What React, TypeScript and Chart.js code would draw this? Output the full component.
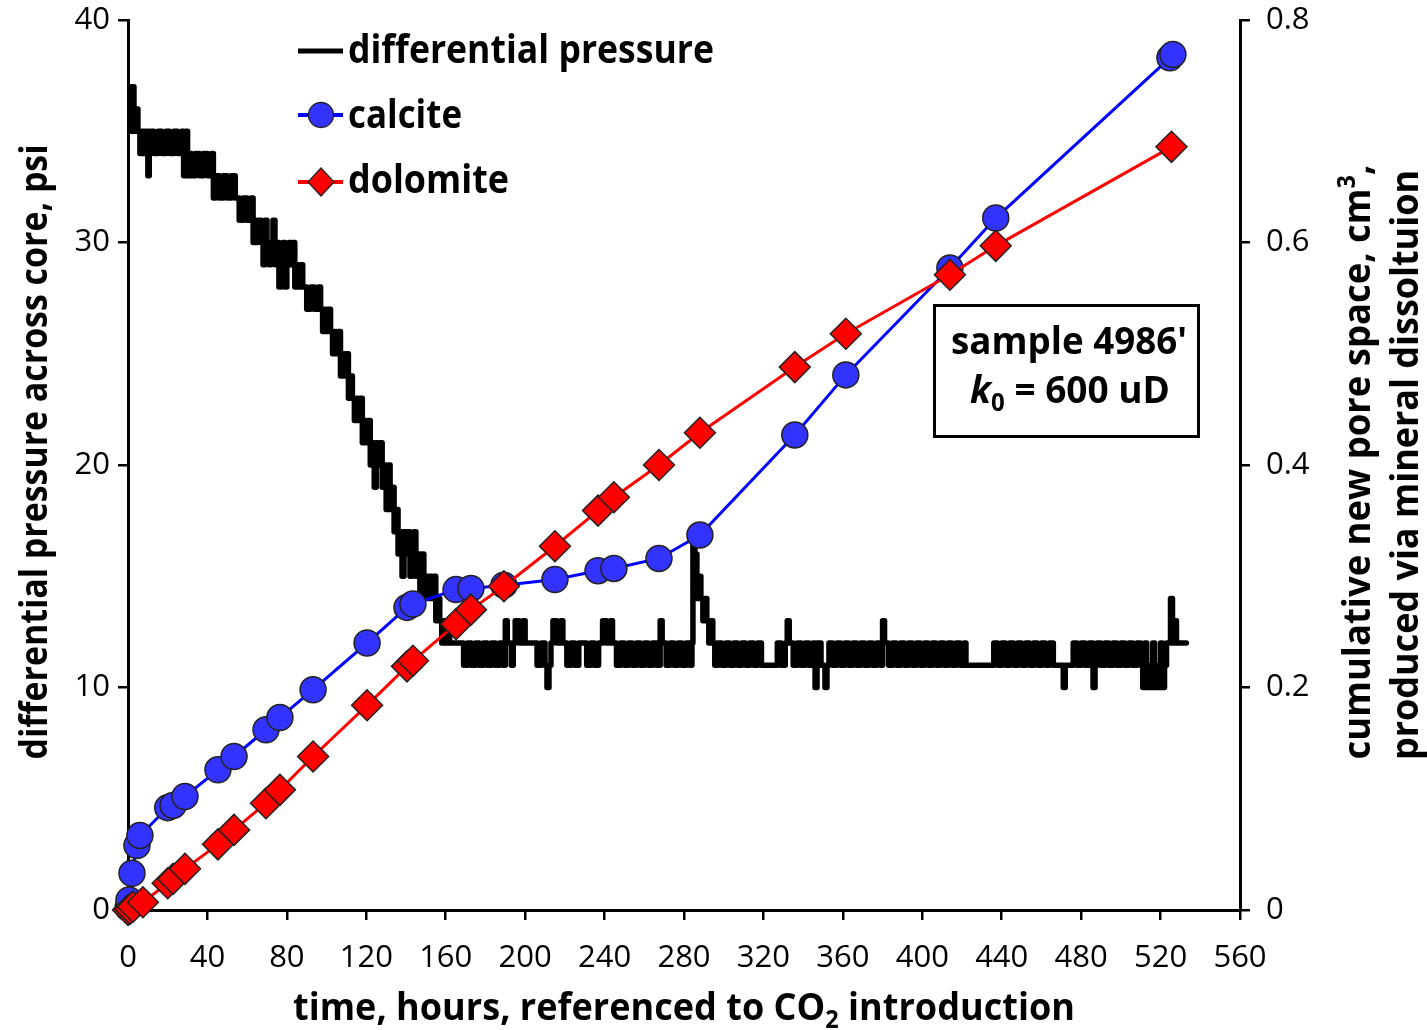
import React, { useEffect, useRef } from 'react';
import { Chart, registerables } from 'chart.js';

Chart.register(...registerables);

// ---------------- data ----------------
// differential pressure trace: [hours, psi]
const dpTrace: [number, number][] = [
  [0, 35], [0.5, 37], [1, 35], [1.5, 37], [2, 35], [2.5, 37], [3, 35], [3.5, 36], [4, 35], [4.5, 36], [5, 35],
  [6, 34], [7, 35], [8, 34], [9, 35], [10, 33], [10.7, 34],
  [11, 35], [13, 34], [15, 35], [17, 34], [19, 35], [21, 34], [23, 35], [25, 34], [27, 35],
  [28, 33], [29, 35], [30, 33], [31, 34], [32, 33],
  [34, 34], [36, 33], [38, 34], [40, 33], [42, 34],
  [43, 32], [44, 33], [46, 32], [48, 33], [50, 32], [52, 33], [54, 32],
  [56, 31], [58, 32], [60, 31], [62, 32],
  [63, 30], [65, 31], [67, 30], [68, 29], [69, 31], [70, 30], [71, 29], [72, 30], [73, 31], [74, 29],
  [75, 30], [76, 28], [77, 29], [78, 30], [79, 28], [80, 29],
  [81, 30], [82, 29], [83, 30], [84, 28], [85, 29], [86, 28], [87, 29], [88, 28],
  [90, 27], [92, 28], [94, 27], [96, 28],
  [97, 27], [98, 26], [99, 27], [100, 26], [101, 27], [102, 26], [103, 25], [104, 26], [105, 25], [106, 26],
  [107, 24], [108, 25], [109, 24], [110, 25], [111, 23], [112, 24], [113, 23], [114, 22], [115, 23], [116, 22],
  [117, 23], [118, 21], [119, 22], [120, 21], [121, 22], [122, 20], [123, 21], [124, 19], [125, 21], [126, 20],
  [127, 21], [128, 19], [129, 20], [130, 18], [131, 20], [132, 18], [133, 19], [134, 17], [135, 18], [136, 16],
  [137, 17], [138, 15], [139, 17], [140, 16], [141, 17], [142, 15], [143, 16], [144, 17], [145, 15], [146, 16],
  [147, 14], [148, 16], [149, 14], [150, 15], [151, 14], [152, 15], [153, 14], [154, 15], [155, 13], [156, 14],
  [157, 13], [158, 12], [159, 13], [160, 12], [161, 13], [162, 12],
  [169, 11], [171, 12], [173, 11], [175, 12], [177, 11], [179, 12], [181, 11], [183, 12], [185, 11], [187, 12],
  [189, 11], [190, 13], [191, 12], [193, 11], [194, 12], [195, 13], [197, 12], [199, 13], [200, 12],
  [206, 11], [208, 12], [210, 11], [211, 10], [212, 11], [213, 12], [214, 13], [216, 12], [218, 13], [219, 12],
  [221, 11], [223, 12], [225, 11], [227, 12], [231, 11], [233, 12], [235, 11], [237, 12], [239, 13], [241, 12],
  [243, 13], [244, 12], [246, 11], [248, 12], [250, 11], [252, 12], [254, 11], [256, 12], [258, 11], [260, 12],
  [262, 11], [264, 12], [266, 11], [268, 13], [269, 12], [271, 11], [273, 12], [275, 11], [277, 12], [279, 11],
  [281, 12], [283, 11],
  [284, 12], [284.5, 16.5], [285.5, 16], [286.5, 14], [287.5, 15], [288.5, 14], [289.5, 13], [290.5, 14],
  [291.5, 13], [292.5, 12], [293.5, 13], [294.5, 12], [295.5, 11],
  [297, 12], [299, 11], [301, 12], [303, 11], [305, 12], [307, 11], [309, 12], [311, 11], [313, 12], [315, 11],
  [317, 12], [319, 11], [327, 12], [329, 11], [331, 12], [332, 13], [333, 12], [335, 11], [337, 12], [339, 11],
  [341, 12], [343, 11], [345, 12], [346, 10], [347, 12], [349, 11], [351, 10], [352, 11], [353, 12], [355, 11],
  [357, 12], [359, 11], [361, 12], [363, 11], [365, 12], [367, 11], [369, 12], [371, 11], [373, 12], [375, 11],
  [377, 12], [379, 11], [380, 13], [381, 12], [383, 11], [385, 12], [387, 11], [389, 12], [391, 11], [393, 12],
  [395, 11], [397, 12], [399, 11], [401, 12], [403, 11], [405, 12], [407, 11], [409, 12], [411, 11], [413, 12],
  [415, 11], [417, 12], [419, 11], [421, 12], [422, 11], [436, 12], [438, 11], [440, 12], [442, 11], [444, 12],
  [446, 11], [448, 12], [450, 11], [452, 12], [454, 11], [456, 12], [458, 11], [460, 12], [462, 11], [464, 12],
  [466, 11], [471, 10], [472, 11], [476, 12], [478, 11], [480, 12], [482, 11], [484, 12], [486, 10], [487, 11],
  [488, 12], [490, 11], [492, 12], [494, 11], [496, 12], [498, 11], [500, 12], [502, 11], [504, 12], [506, 11],
  [508, 12], [510, 11], [511, 10], [512, 12], [513, 10], [514, 11], [515, 10], [516, 12], [517, 10], [518, 11],
  [519, 10], [520, 12], [521, 10], [522, 11], [523, 12], [525, 14], [526, 12], [527, 13], [528, 12], [533, 12],
];

const calciteHours = [0, 0.5, 2, 4.5, 6, 20, 22.7, 28.7, 45.3, 53.4, 69.5, 76.5, 93.2, 120.4, 140.5, 143.5, 165.2, 172.7, 189.3, 215, 236.7, 244.7, 267.4, 288, 335.8, 361.5, 413.9, 437, 524.7, 526.2];
const calciteVolume = [0.002, 0.009, 0.033, 0.058, 0.067, 0.092, 0.094, 0.102, 0.126, 0.138, 0.162, 0.173, 0.198, 0.24, 0.272, 0.275, 0.288, 0.289, 0.292, 0.297, 0.305, 0.307, 0.316, 0.337, 0.427, 0.481, 0.577, 0.622, 0.766, 0.769];

const dolomiteHours = [0, 1, 2.5, 7.5, 20, 22.7, 28.7, 45.3, 53.4, 69.5, 76.5, 93.2, 120.4, 140.5, 143.5, 165.2, 172.7, 189.3, 215, 236.7, 244.7, 267.4, 288, 335.8, 361.5, 413.9, 437, 525.5];
const dolomiteVolume = [0, 0.001, 0.003, 0.007, 0.024, 0.028, 0.037, 0.059, 0.072, 0.096, 0.108, 0.138, 0.184, 0.219, 0.224, 0.257, 0.27, 0.291, 0.327, 0.359, 0.371, 0.4, 0.429, 0.488, 0.518, 0.571, 0.597, 0.686];

const seriesNames = ['differential pressure', 'calcite', 'dolomite'];
const xRange = { min: 0, max: 560, step: 40 };
const yLeftRange = { min: 0, max: 40, step: 10 };
const yRightRange = { min: 0, max: 0.8, step: 0.2 };

// ---------------- styles ----------------
const FONT = "'Open Sans', 'DejaVu Sans', sans-serif";
const BLUE_LINE = '#0000ff';
const BLUE_FILL = '#3333ff';
const RED = '#ff0000';

type Seg = { t: string; style?: 'sub' | 'sup' | 'italic' };

function drawRich(
  ctx: CanvasRenderingContext2D,
  segs: Seg[],
  x: number,
  y: number,
  size: number,
  targetW: number,
  align: 'left' | 'center' = 'center',
  rotate = false,
) {
  const fontFor = (s: Seg) => {
    const small = s.style === 'sub' || s.style === 'sup';
    const sz = small ? size * 0.65 : size;
    const it = s.style === 'italic' ? 'italic ' : '';
    return `${it}bold ${sz}px ${FONT}`;
  };
  const widths: number[] = [];
  let total = 0;
  for (const s of segs) {
    ctx.font = fontFor(s);
    const w = ctx.measureText(s.t).width;
    widths.push(w);
    total += w;
  }
  const sx = targetW > 0 ? targetW / total : 1;
  ctx.save();
  ctx.translate(x, y);
  if (rotate) ctx.rotate(-Math.PI / 2);
  ctx.scale(sx, 1);
  ctx.fillStyle = '#000';
  ctx.textAlign = 'left';
  ctx.textBaseline = 'alphabetic';
  let cx = align === 'center' ? -total / 2 : 0;
  segs.forEach((s, i) => {
    ctx.font = fontFor(s);
    const dy = s.style === 'sub' ? size * 0.22 : s.style === 'sup' ? -size * 0.4 : 0;
    ctx.fillText(s.t, cx, dy);
    cx += widths[i];
  });
  ctx.restore();
}

const decorPlugin = {
  id: 'decor',
  afterDraw(chart: any) {
    const ctx: CanvasRenderingContext2D = chart.ctx;
    ctx.save();
    // axis titles
    drawRich(ctx, [{ t: 'time, hours, referenced to CO' }, { t: '2', style: 'sub' }, { t: ' introduction' }], 684, 1020, 37, 782);
    drawRich(ctx, [{ t: 'differential pressure across core, psi' }], 47, 452, 37, 615, 'center', true);
    drawRich(ctx, [{ t: 'cumulative new pore space, cm' }, { t: '3', style: 'sup' }, { t: ',' }], 1370, 462, 37, 595, 'center', true);
    drawRich(ctx, [{ t: 'produced via mineral dissoltuion' }], 1418, 465, 37, 590, 'center', true);

    // legend
    ctx.lineCap = 'butt';
    ctx.strokeStyle = '#000';
    ctx.lineWidth = 5;
    ctx.beginPath();
    ctx.moveTo(298, 51);
    ctx.lineTo(343, 51);
    ctx.stroke();

    ctx.strokeStyle = BLUE_LINE;
    ctx.lineWidth = 4;
    ctx.beginPath();
    ctx.moveTo(298, 115);
    ctx.lineTo(343, 115);
    ctx.stroke();
    ctx.beginPath();
    ctx.arc(321, 115, 12.5, 0, Math.PI * 2);
    ctx.fillStyle = BLUE_FILL;
    ctx.fill();
    ctx.strokeStyle = '#222';
    ctx.lineWidth = 1.3;
    ctx.stroke();

    ctx.strokeStyle = RED;
    ctx.lineWidth = 4;
    ctx.beginPath();
    ctx.moveTo(298, 182);
    ctx.lineTo(343, 182);
    ctx.stroke();
    ctx.beginPath();
    ctx.moveTo(321, 168);
    ctx.lineTo(334, 182);
    ctx.lineTo(321, 196);
    ctx.lineTo(308, 182);
    ctx.closePath();
    ctx.fillStyle = RED;
    ctx.fill();
    ctx.strokeStyle = '#222';
    ctx.lineWidth = 1.3;
    ctx.stroke();

    drawRich(ctx, [{ t: seriesNames[0] }], 348, 63, 39, 366, 'left');
    drawRich(ctx, [{ t: seriesNames[1] }], 348, 128, 39, 114, 'left');
    drawRich(ctx, [{ t: seriesNames[2] }], 348, 193, 39, 161, 'left');

    // annotation box
    ctx.fillStyle = '#fff';
    ctx.fillRect(933, 304, 267, 134);
    ctx.strokeStyle = '#000';
    ctx.lineWidth = 3;
    ctx.strokeRect(934.5, 305.5, 264, 131);
    drawRich(ctx, [{ t: "sample 4986'" }], 1069, 354, 38, 236);
    drawRich(ctx, [{ t: 'k', style: 'italic' }, { t: '0', style: 'sub' }, { t: ' = 600 uD' }], 1070, 403, 38, 200);
    ctx.restore();
  },
};

export default function App() {
  const ref = useRef<HTMLCanvasElement>(null);

  useEffect(() => {
    if (!ref.current) return;
    const tickFont = { family: FONT, size: 31 };
    const chart = new Chart(ref.current, {
      type: 'line',
      data: {
        datasets: [
          {
            label: seriesNames[0],
            data: dpTrace.map(([x, y]) => ({ x, y })),
            yAxisID: 'y',
            borderColor: '#000',
            borderWidth: 5.5,
            pointRadius: 0,
            stepped: true,
            fill: false,
            borderCapStyle: 'round',
            borderJoinStyle: 'round',
            order: 3,
          },
          {
            label: seriesNames[1],
            data: calciteHours.map((x, i) => ({ x, y: calciteVolume[i] })),
            yAxisID: 'y1',
            borderColor: BLUE_LINE,
            borderWidth: 3,
            pointStyle: 'circle',
            pointRadius: 13,
            pointBackgroundColor: BLUE_FILL,
            pointBorderColor: '#222',
            pointBorderWidth: 1.5,
            fill: false,
            clip: false,
            order: 2,
          },
          {
            label: seriesNames[2],
            data: dolomiteHours.map((x, i) => ({ x, y: dolomiteVolume[i] })),
            yAxisID: 'y1',
            borderColor: RED,
            borderWidth: 3,
            pointStyle: 'rectRot',
            pointRadius: 15.5,
            pointBackgroundColor: RED,
            pointBorderColor: '#222',
            pointBorderWidth: 1.5,
            fill: false,
            clip: false,
            order: 1,
          },
        ] as any,
      },
      options: {
        animation: false,
        responsive: false,
        maintainAspectRatio: false,
        layout: { padding: { top: 20, left: 0, right: 0, bottom: 0 } },
        plugins: {
          legend: { display: false },
          tooltip: { enabled: false },
        },
        scales: {
          x: {
            type: 'linear',
            min: xRange.min,
            max: xRange.max,
            ticks: { stepSize: xRange.step, autoSkip: false, maxRotation: 0, color: '#000', font: tickFont, padding: 20 },
            grid: { drawOnChartArea: false, drawTicks: true, tickLength: 10, color: '#000', lineWidth: 2.5 },
            border: { color: '#000', width: 3 },
            afterFit: (s: any) => { s.height = 120; s.paddingLeft = 0; s.paddingRight = 0; },
          },
          y: {
            type: 'linear',
            position: 'left',
            min: yLeftRange.min,
            max: yLeftRange.max,
            ticks: { stepSize: yLeftRange.step, color: '#000', font: tickFont, padding: 8 },
            grid: { drawOnChartArea: false, drawTicks: true, tickLength: 10, color: '#000', lineWidth: 2.5 },
            border: { color: '#000', width: 3 },
            afterFit: (s: any) => { s.width = 128; s.paddingTop = 0; s.paddingBottom = 0; },
          },
          y1: {
            type: 'linear',
            position: 'right',
            min: yRightRange.min,
            max: yRightRange.max,
            ticks: {
              stepSize: yRightRange.step,
              color: '#000',
              font: tickFont,
              padding: 16,
              callback: (v: any) => (Number(v) === 0 ? '0' : Number(v).toFixed(1)),
            },
            grid: { drawOnChartArea: false, drawTicks: true, tickLength: 10, color: '#000', lineWidth: 2.5 },
            border: { color: '#000', width: 3 },
            afterFit: (s: any) => { s.width = 187; s.paddingTop = 0; s.paddingBottom = 0; },
          },
        },
      } as any,
      plugins: [decorPlugin],
    });
    return () => chart.destroy();
  }, []);

  return (
    <div style={{ position: 'absolute', left: 0, top: 0, width: 1427, height: 1030, background: '#fff' }}>
      <canvas ref={ref} width={1427} height={1030} style={{ width: 1427, height: 1030, display: 'block' }} />
    </div>
  );
}
